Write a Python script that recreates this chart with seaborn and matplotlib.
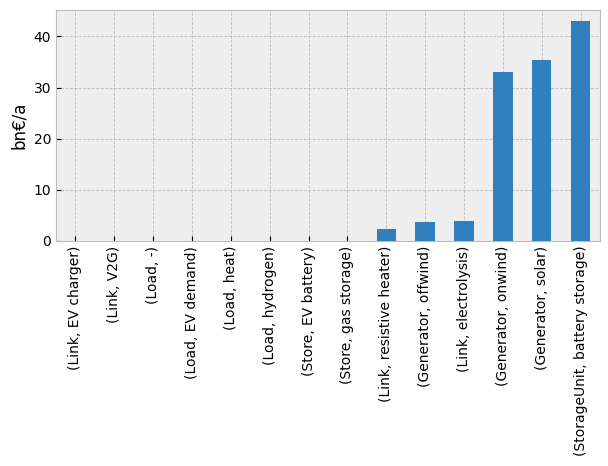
import matplotlib
matplotlib.use('Agg')
import matplotlib.pyplot as plt
import seaborn as sns
import pandas as pd

categories = ['(Link, EV charger)', '(Link, V2G)', '(Load, -)', '(Load, EV demand)',
              '(Load, heat)', '(Load, hydrogen)', '(Store, EV battery)', '(Store, gas storage)',
              '(Link, resistive heater)', '(Generator, offwind)', '(Link, electrolysis)',
              '(Generator, onwind)', '(Generator, solar)', '(StorageUnit, battery storage)']
costs = [0, 0, 0, 0, 0, 0, 0, 0, 2.3, 3.7, 3.9, 33.0, 35.35, 43.0]

df = pd.DataFrame({'component': categories, 'cost': costs})

plt.style.use('bmh')
fig, ax = plt.subplots(figsize=(6.08, 4.66), dpi=100)
sns.barplot(data=df, x='component', y='cost', color='#3080BD', width=0.5,
            saturation=1, ax=ax, zorder=3)
ax.set_xlabel('')
ax.set_ylabel('bn€/a', fontsize=12)
ax.tick_params(axis='x', rotation=90)
ax.set_xlim(-0.5, len(categories) - 0.5)
ax.set_ylim(0, max(costs) * 1.05)
ax.grid(True, axis='both', linestyle='--', linewidth=0.6, color='#bbbbbb')
ax.set_axisbelow(True)

fig.subplots_adjust(left=56/608, right=600/608, top=1-10/466, bottom=1-241/466)
plt.savefig('out.png')
